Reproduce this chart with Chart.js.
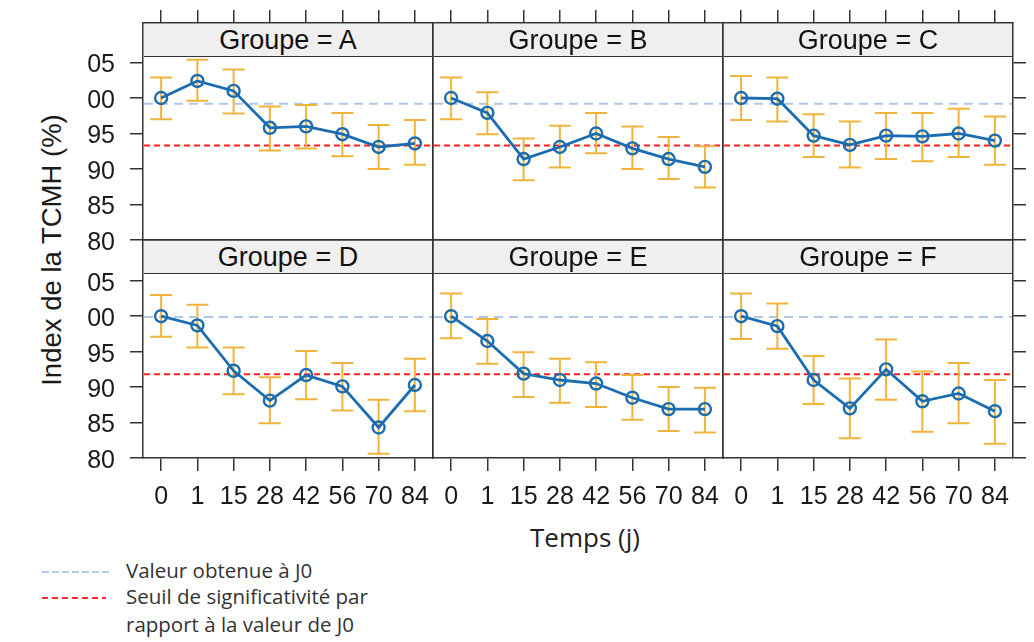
<!DOCTYPE html>
<html lang="fr">
<head>
<meta charset="utf-8">
<title>Index de la TCMH</title>
<script src="https://cdn.jsdelivr.net/npm/chart.js@4.4.1/dist/chart.umd.min.js"></script>
<style>
  html, body { margin: 0; padding: 0; background: #fff; }
  #page { position: relative; width: 1034px; height: 642px; overflow: hidden; font-family: 'Liberation Sans', Arial, sans-serif; }
  #page canvas { position: absolute; }
  .strip { position: absolute; background: #efefef; border-bottom: 1.5px solid #333; box-sizing: border-box;
           text-align: center; font-size: 27px; color: #111; z-index: 2; }
  #ytitle { position: absolute; left: 52px; top: 250px; transform: translate(-50%, -50%) rotate(-90deg);
            white-space: nowrap; font-size: 27.5px; color: #1a1a1a; }
  #xtitle { position: absolute; left: 585px; top: 537px; transform: translate(-50%, -50%);
            white-space: nowrap; font-family: 'Open Sans', sans-serif; font-size: 26px; color: #222; }
  .leg { position: absolute; left: 126px; font-family: 'Open Sans', sans-serif; font-size: 20.5px; color: #333; white-space: nowrap; line-height: 27.5px; }
  #legsvg { position: absolute; left: 0; top: 555px; }
</style>
</head>
<body>
<div id="page">
  <div id="ytitle">Index de la TCMH (%)</div>
  <div id="xtitle">Temps (j)</div>
  <svg id="legsvg" width="120" height="60">
    <line x1="42" y1="17" x2="112" y2="17" stroke="#b4c9e8" stroke-width="2" stroke-dasharray="7 3"></line>
    <line x1="42" y1="43" x2="106" y2="43" stroke="#ff2a2a" stroke-width="2" stroke-dasharray="6 4"></line>
  </svg>
  <div class="leg" style="top:557px">Valeur obtenue à J0</div>
  <div class="leg" style="top:583px">Seuil de significativité par<br>rapport à la valeur de J0</div>
</div>
<script>
// données
const groupes = ['A', 'B', 'C', 'D', 'E', 'F'];
const jours = ['0', '1', '15', '28', '42', '56', '70', '84'];
const yTickValues = [80, 85, 90, 95, 100, 105];
const yTickLabels = ['80', '85', '90', '95', '00', '05'];

const moyA = [100.0, 102.4, 101.0, 95.8, 96.0, 94.9, 93.1, 93.6];
const basA = [97.0, 99.6, 97.8, 92.6, 92.9, 91.8, 90.0, 90.6];
const hautA = [102.9, 105.4, 104.0, 98.8, 99.0, 97.9, 96.2, 96.9];

const moyB = [100.0, 97.9, 91.4, 93.1, 95.0, 92.9, 91.4, 90.3];
const basB = [97.0, 94.9, 88.4, 90.2, 92.2, 90.0, 88.6, 87.4];
const hautB = [102.9, 100.8, 94.3, 96.1, 97.9, 96.0, 94.5, 93.2];

const moyC = [100.0, 99.9, 94.7, 93.4, 94.7, 94.6, 95.0, 94.0];
const basC = [96.9, 96.7, 91.7, 90.2, 91.4, 91.1, 91.7, 90.6];
const hautC = [103.1, 102.9, 97.7, 96.7, 97.9, 97.9, 98.5, 97.4];

const moyD = [100.0, 98.7, 92.3, 88.1, 91.7, 90.1, 84.3, 90.3];
const basD = [97.1, 95.6, 89.0, 84.9, 88.3, 86.7, 80.6, 86.6];
const hautD = [103.0, 101.6, 95.6, 91.4, 95.1, 93.4, 88.2, 94.0];

const moyE = [100.0, 96.5, 91.9, 91.0, 90.5, 88.5, 86.9, 86.9];
const basE = [96.9, 93.3, 88.6, 87.8, 87.2, 85.4, 83.8, 83.6];
const hautE = [103.2, 99.6, 94.9, 94.0, 93.5, 91.7, 90.0, 89.9];

const moyF = [100.0, 98.6, 91.0, 87.0, 92.5, 88.0, 89.1, 86.6];
const basF = [96.8, 95.4, 87.6, 82.8, 88.2, 83.7, 84.9, 82.0];
const hautF = [103.2, 101.8, 94.4, 91.2, 96.7, 92.2, 93.4, 91.0];

// lignes de référence (rangée du haut / rangée du bas)
const j0Ref = [99.2, 99.9];
const seuilRef = [93.3, 91.8];

const series = {
    A: { moy: moyA, bas: basA, haut: hautA },
    B: { moy: moyB, bas: basB, haut: hautB },
    C: { moy: moyC, bas: basC, haut: hautC },
    D: { moy: moyD, bas: basD, haut: hautD },
    E: { moy: moyE, bas: basE, haut: hautE },
    F: { moy: moyF, bas: basF, haut: hautF },
};

const axisColor = '#333';
const tickFont = { family: "'Liberation Sans', Arial, sans-serif", size: 25 };

// lignes pointillées + barres d'erreur, dessinées sous la courbe
const extrasPlugin = {
    id: 'extras',
    beforeDatasetsDraw(chart, args, opts) {
        const { ctx, chartArea } = chart;
        const x = chart.scales.x;
        const y = chart.scales.y;
        ctx.save();
        [[opts.j0, '#b0c8e8', [9, 6]], [opts.seuil, '#ff2020', [6, 4]]].forEach(([v, color, dash]) => {
            const py = y.getPixelForValue(v);
            ctx.beginPath();
            ctx.setLineDash(dash);
            ctx.strokeStyle = color;
            ctx.lineWidth = 2;
            ctx.moveTo(chartArea.left + 1, py);
            ctx.lineTo(chartArea.right - 1, py);
            ctx.stroke();
        });
        ctx.setLineDash([]);
        ctx.strokeStyle = '#f0b43c';
        ctx.lineWidth = 2;
        opts.bas.forEach((lo, i) => {
            const px = x.getPixelForValue(i);
            const yLo = y.getPixelForValue(lo);
            const yHi = y.getPixelForValue(opts.haut[i]);
            ctx.beginPath();
            ctx.moveTo(px, yLo); ctx.lineTo(px, yHi);
            ctx.moveTo(px - 11, yLo); ctx.lineTo(px + 11, yLo);
            ctx.moveTo(px - 11, yHi); ctx.lineTo(px + 11, yHi);
            ctx.stroke();
        });
        ctx.restore();
    }
};

const page = document.getElementById('page');
const MARGE_HAUT = 40; // place pour les graduations du haut et le débord des étiquettes

groupes.forEach((g, k) => {
    const col = k % 3;
    const row = Math.floor(k / 3);
    const left = 143 + 290 * col;
    const top = row === 0 ? 23 : 240;
    const h = row === 0 ? 217 : 218;
    const yMax = row === 0 ? 110.56 : 110.75; // le haut de la zone inclut le bandeau

    const canvas = document.createElement('canvas');
    canvas.width = 380;
    canvas.height = h + MARGE_HAUT + 50;
    canvas.style.left = (left - 70) + 'px';
    canvas.style.top = (top - MARGE_HAUT) + 'px';
    page.appendChild(canvas);

    const strip = document.createElement('div');
    strip.className = 'strip';
    strip.style.left = (left + 1) + 'px';
    strip.style.top = (top + 0.75) + 'px';
    strip.style.width = '288px';
    strip.style.height = '33px';
    strip.style.lineHeight = '32px';
    strip.textContent = 'Groupe = ' + g;
    page.appendChild(strip);

    const s = series[g];
    const yTicks = (scale) => { scale.ticks = yTickValues.map(v => ({ value: v })); };

    new Chart(canvas.getContext('2d'), {
        type: 'line',
        data: {
            labels: jours,
            datasets: [{
                data: s.moy,
                borderColor: '#1c6db0',
                borderWidth: 2.8,
                pointRadius: 6,
                pointBorderWidth: 2.4,
                pointBackgroundColor: 'rgba(255,255,255,0)',
                pointBorderColor: '#1c6db0',
                tension: 0,
            }],
        },
        options: {
            responsive: false,
            animation: false,
            devicePixelRatio: 1,
            layout: { padding: 0 },
            plugins: {
                legend: { display: false },
                tooltip: { enabled: false },
                extras: { bas: s.bas, haut: s.haut, j0: j0Ref[row], seuil: seuilRef[row] },
            },
            scales: {
                x: {
                    type: 'category',
                    position: 'bottom',
                    offset: true,
                    grid: { drawOnChartArea: false, drawTicks: row === 1, tickLength: 13, color: axisColor, lineWidth: 1.5 },
                    border: { display: true, color: axisColor, width: 1.5 },
                    ticks: { display: row === 1, font: tickFont, color: '#1a1a1a', padding: 11, maxRotation: 0, autoSkip: false },
                    afterFit: (sc) => { sc.height = 50; },
                },
                x2: {
                    type: 'category',
                    position: 'top',
                    offset: true,
                    grid: { drawOnChartArea: false, drawTicks: row === 0, tickLength: 13, color: axisColor, lineWidth: 1.5 },
                    border: { display: true, color: axisColor, width: 1.5 },
                    ticks: { display: false },
                    afterFit: (sc) => { sc.height = MARGE_HAUT; },
                },
                y: {
                    type: 'linear',
                    position: 'left',
                    min: 80,
                    max: yMax,
                    afterBuildTicks: yTicks,
                    grid: { drawOnChartArea: false, drawTicks: col === 0, tickLength: 13, color: axisColor, lineWidth: 1.5 },
                    border: { display: true, color: axisColor, width: 1.5 },
                    ticks: {
                        display: col === 0, font: tickFont, color: '#1a1a1a', padding: 15, labelOffset: 3, autoSkip: false,
                        callback: (v) => yTickLabels[yTickValues.indexOf(v)],
                    },
                    afterFit: (sc) => { sc.width = 70; },
                },
                y2: {
                    type: 'linear',
                    position: 'right',
                    min: 80,
                    max: yMax,
                    afterBuildTicks: yTicks,
                    grid: { drawOnChartArea: false, drawTicks: col === 2, tickLength: 13, color: axisColor, lineWidth: 1.5 },
                    border: { display: true, color: axisColor, width: 1.5 },
                    ticks: { display: false },
                    afterFit: (sc) => { sc.width = 20; },
                },
            },
        },
        plugins: [extrasPlugin],
    });
});
</script>
</body>
</html>
